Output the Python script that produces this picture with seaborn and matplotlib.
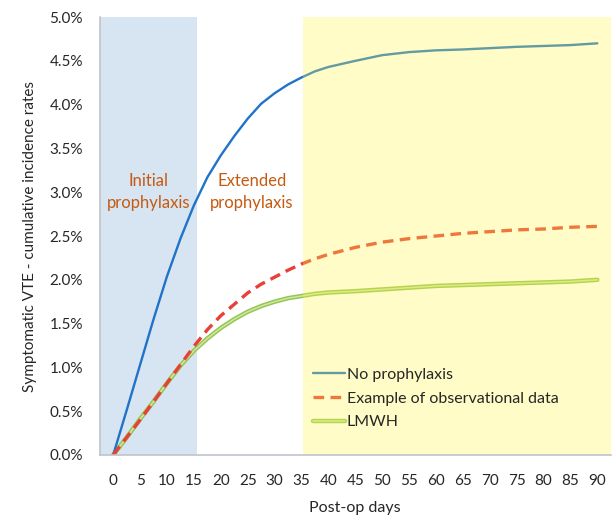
import numpy as np
import pandas as pd
import seaborn as sns
import matplotlib.pyplot as plt
from matplotlib.lines import Line2D
from matplotlib.ticker import PercentFormatter

# values (percent); denser reading where the curves bend
days = [0, 2.5, 5, 7.5, 10, 12.5, 15, 17.5, 20, 22.5, 25, 27.5, 30, 32.5, 35, 37.5, 40,
        45, 50, 55, 60, 65, 70, 75, 80, 85, 90]
no_prophylaxis = [0.0, 0.51, 1.03, 1.55, 2.04, 2.47, 2.85, 3.17, 3.42, 3.64, 3.84, 4.01,
                  4.13, 4.23, 4.31, 4.38, 4.43,
                  4.50, 4.565, 4.60, 4.62, 4.63, 4.645, 4.66, 4.67, 4.68, 4.70]
observational = [0.0, 0.20, 0.40, 0.61, 0.82, 1.03, 1.24, 1.43, 1.59, 1.72, 1.85, 1.95,
                 2.03, 2.11, 2.18, 2.24, 2.29,
                 2.37, 2.43, 2.47, 2.50, 2.53, 2.55, 2.57, 2.58, 2.60, 2.61]
lmwh = [0.0, 0.20, 0.41, 0.61, 0.82, 1.02, 1.19, 1.33, 1.45, 1.55, 1.635, 1.70,
        1.75, 1.79, 1.815, 1.84, 1.855,
        1.87, 1.89, 1.91, 1.93, 1.94, 1.95, 1.96, 1.97, 1.98, 2.00]
x_ticks = [0, 5, 10, 15, 20, 25, 30, 35, 40, 45, 50, 55, 60, 65, 70, 75, 80, 85, 90]
y_ticks = [0.0, 0.5, 1.0, 1.5, 2.0, 2.5, 3.0, 3.5, 4.0, 4.5, 5.0]

df = pd.DataFrame({'day': days, 'none': no_prophylaxis, 'obs': observational, 'lmwh': lmwh})

sns.set_style('white')
plt.rcParams['font.family'] = ['Lato', 'DejaVu Sans']

BLUE = np.array([31, 115, 200]) / 255
RED = np.array([232, 64, 56]) / 255
GREEN_OUT = np.array([150, 196, 82]) / 255
GREEN_IN = np.array([206, 232, 160]) / 255
YELLOW = np.array([255, 248, 72]) / 255
YEL_ALPHA = 0.3
ORANGE = '#C55A11'
INK = '#262626'


def tint(c):
    # colour of a line seen through the yellow band
    return (1 - YEL_ALPHA) * c + YEL_ALPHA * YELLOW


fig, ax = plt.subplots(figsize=(6.12, 5.17), dpi=100)
fig.subplots_adjust(left=0.163, right=0.998, bottom=0.12, top=0.967)

ax.axvspan(-2.5, 15.5, color='#D7E4F1', lw=0, zorder=0)

sns.lineplot(data=df, x='day', y='none', ax=ax, color=BLUE, lw=1.7, zorder=3)
sns.lineplot(data=df, x='day', y='obs', ax=ax, color=RED, lw=2.4, zorder=4,
             linestyle=(0, (3.2, 1.9)))
sns.lineplot(data=df, x='day', y='lmwh', ax=ax, color=GREEN_OUT, lw=3.2, zorder=2)
sns.lineplot(data=df, x='day', y='lmwh', ax=ax, color=GREEN_IN, lw=1.1, zorder=2)

# yellow band sits over the lines and tints them
ax.axvspan(35.2, 92.5, color=YELLOW, alpha=YEL_ALPHA, lw=0, zorder=5)

ax.text(6.5, 3.0, 'Initial\nprophylaxis', color=ORANGE, fontsize=12,
        ha='center', va='center', linespacing=1.45, zorder=6)
ax.text(25.8, 3.0, 'Extended\nprophylaxis', color=ORANGE, fontsize=12,
        ha='center', va='center', linespacing=1.45, zorder=6)

handles = [
    Line2D([], [], color=tint(BLUE), lw=1.7),
    Line2D([], [], color=tint(RED), lw=2.4, linestyle=(0, (3.2, 1.9))),
    (Line2D([], [], color=tint(GREEN_OUT), lw=3.2), Line2D([], [], color=tint(GREEN_IN), lw=1.1)),
]
labels = ['No prophylaxis', 'Example of observational data', 'LMWH']
leg = ax.legend(handles, labels, loc='upper left', bbox_to_anchor=(0.39, 0.232),
                frameon=False, fontsize=11.5, handlelength=2.0, handletextpad=0.1,
                labelspacing=0.6, labelcolor=INK)
leg.set_zorder(10)

ax.set_xlim(-2.5, 92.5)
ax.set_ylim(0, 5.0)
ax.set_xticks(x_ticks)
ax.set_yticks(y_ticks)
ax.yaxis.set_major_formatter(PercentFormatter(decimals=1))
ax.tick_params(length=0, labelsize=11, colors=INK, pad=12)
ax.tick_params(axis='x', pad=14)

ax.set_xlabel('Post-op days', fontsize=11.5, color=INK, labelpad=9)
ax.set_ylabel('Symptomatic VTE - cumulative incidence rates', fontsize=11,
              color=INK, labelpad=9)

sns.despine(ax=ax)
for s in ['left', 'bottom']:
    ax.spines[s].set_color('#BFC3CC')
    ax.spines[s].set_linewidth(1.2)
    ax.spines[s].set_zorder(7)

fig.savefig('out.png', dpi=100)
